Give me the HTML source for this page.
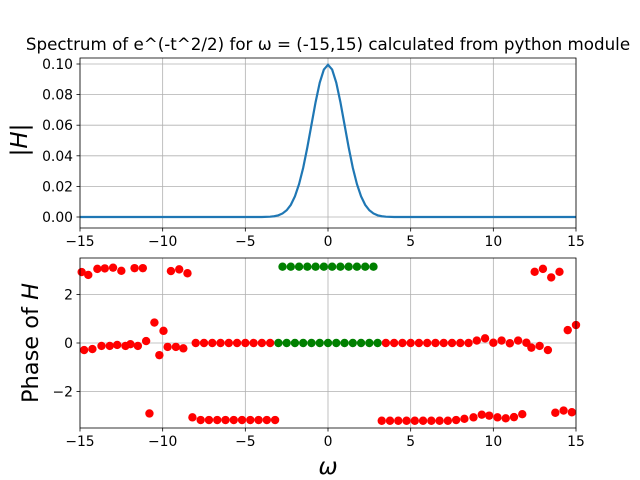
<!DOCTYPE html>
<html><head><meta charset="utf-8"><style>
body{margin:0;background:#fff}
svg{display:block;font-family:"DejaVu Sans","Liberation Sans",sans-serif}
</style></head><body>
<svg id="c" width="640" height="480" xmlns="http://www.w3.org/2000/svg"></svg>
<script>
const magW=[-15,-5,-4,-3.5,-3.25,-3,-2.75,-2.5,-2.25,-2,-1.75,-1.5,-1.25,-1,-0.75,-0.5,-0.25,0,0.25,0.5,0.75,1,1.25,1.5,1.75,2,2.25,2.5,2.75,3,3.25,3.5,4,5,15];
const magV=[0,0,0,0.0002,0.0005,0.0011,0.0023,0.0044,0.0079,0.0135,0.0215,0.0322,0.0455,0.0603,0.0751,0.0878,0.0964,0.0995,0.0964,0.0878,0.0751,0.0603,0.0455,0.0322,0.0215,0.0135,0.0079,0.0044,0.0023,0.0011,0.0005,0.0002,0,0,0];
const redW=[-14.9,-14.5,-13.95,-13.5,-13,-12.5,-11.7,-11.2,-9.5,-9,-8.5,
-14.75,-14.25,-13.7,-13.2,-12.75,-12.25,-11.95,-11.5,-11,-10.5,-9.95,-10.2,-9.7,-9.2,-8.75,-10.8,
-8,-7.5,-7,-6.5,-6,-5.5,-5,-4.5,-4,-3.5,
-8.2,-7.7,-7.2,-6.7,-6.2,-5.7,-5.2,-4.7,-4.2,-3.7,-3.2,
3.5,4,4.5,5,5.5,6,6.5,7,7.5,8,8.5,9,9.5,10,10.5,11,11.5,12,12.3,12.8,13.3,14.5,15,
12.5,13,13.5,14,
3.25,3.75,4.25,4.75,5.25,5.75,6.25,6.75,7.25,7.75,8.25,8.8,9.3,9.75,10.25,10.75,11.25,11.75,13.75,14.25,14.75];
const redV=[2.92,2.8,3.05,3.07,3.1,2.97,3.08,3.08,2.96,3.03,2.87,
-0.29,-0.25,-0.12,-0.12,-0.08,-0.12,-0.05,-0.12,0.08,0.84,0.5,-0.5,-0.16,-0.16,-0.22,-2.9,
0,0,0,0,0,0,0,0,0,0,
-3.06,-3.17,-3.17,-3.17,-3.17,-3.17,-3.17,-3.17,-3.17,-3.17,-3.17,
0,0,0,0,0,0,0,0,0,0,0,0.1,0.19,0.01,0.1,-0.01,0.1,0.01,-0.19,-0.12,-0.29,0.53,0.74,
2.93,3.05,2.7,2.93,
-3.2,-3.2,-3.2,-3.2,-3.2,-3.2,-3.2,-3.2,-3.2,-3.17,-3.12,-3.06,-2.95,-2.99,-3.06,-3.1,-3.05,-2.93,-2.87,-2.78,-2.85];
const greenW=[-3,-2.5,-2,-1.5,-1,-0.5,0,0.5,1,1.5,2,2.5,3,-2.75,-2.25,-1.75,-1.25,-0.75,-0.25,0.25,0.75,1.25,1.75,2.25,2.75];
const greenV=[0,0,0,0,0,0,0,0,0,0,0,0,0,3.14,3.14,3.14,3.14,3.14,3.14,3.14,3.14,3.14,3.14,3.14,3.14];
const xTicks=[-15,-10,-5,0,5,10,15];
const magTicks=[0,0.02,0.04,0.06,0.08,0.1];
const magTickLabels=["0.00","0.02","0.04","0.06","0.08","0.10"];
const phTicks=[-2,0,2];

const S=document.getElementById('c');const NS='http://www.w3.org/2000/svg';
function mk(t,a,p){const e=document.createElementNS(NS,t);for(const k in a)e.setAttribute(k,a[k]);(p||S).appendChild(e);return e;}
const L=80,R=576;
const X=w=>L+(w+15)/30*(R-L);
const Y1=v=>217-v*1530;
const Y2=v=>343-v*24.3;
function axes(top,bot,name,yt,yf,ylab){
  const g=mk('g',{});
  xTicks.forEach(t=>{mk('line',{x1:X(t),x2:X(t),y1:top,y2:bot,stroke:'#b0b0b0','stroke-width':0.8},g);
    mk('line',{x1:X(t),x2:X(t),y1:bot,y2:bot+3.5,stroke:'#000','stroke-width':0.8},g);
    const tx=mk('text',{x:X(t),y:bot+18,'font-size':13.9,'text-anchor':'middle'},g);tx.textContent=t<0?'\u2212'+(-t):t;});
  yt.forEach((t,i)=>{const y=yf(t);mk('line',{x1:L,x2:R,y1:y,y2:y,stroke:'#b0b0b0','stroke-width':0.8},g);
    mk('line',{x1:L-3.5,x2:L,y1:y,y2:y,stroke:'#000','stroke-width':0.8},g);
    const tx=mk('text',{x:L-7,y:y+5,'font-size':13.9,'text-anchor':'end'},g);tx.textContent=ylab[i];});
  return g;
}
const t=mk('text',{x:328,y:50,'font-size':16.7,'text-anchor':'middle'});t.textContent='Spectrum of  e^(-t^2/2) for \u03c9 = (-15,15) calculated from python module';

axes(58,228,'magnitude-axes',magTicks,Y1,magTickLabels);
let d=magW.map((w,i)=>(i?'L':'M')+X(w)+','+Y1(magV[i])).join('');
const ln=mk('path',{d:d,fill:'none',stroke:'#1f77b4','stroke-width':2.2});

mk('rect',{x:L,y:58,width:R-L,height:170,fill:'none',stroke:'#000','stroke-width':0.8});
const yl1=mk('text',{x:0,y:0,'font-size':23,'text-anchor':'middle',transform:'translate(27,140) rotate(-90)','font-style':'italic'});yl1.textContent='|H|';


axes(258,428,'phase-axes',phTicks,Y2,["\u22122","0","2"]);
const cg=mk('g',{});
redW.forEach((w,i)=>{const c=mk('circle',{cx:X(w),cy:Y2(redV[i]),r:4.2,fill:'red'},cg);});
greenW.forEach((w,i)=>{const c=mk('circle',{cx:X(w),cy:Y2(greenV[i]),r:4.2,fill:'green'},cg);});
mk('rect',{x:L,y:258,width:R-L,height:170,fill:'none',stroke:'#000','stroke-width':0.8});
const yl2=mk('text',{x:0,y:0,'font-size':22.5,'text-anchor':'middle',transform:'translate(38,343) rotate(-90)'});yl2.innerHTML='Phase of <tspan font-style="italic">H</tspan>';

const xl=mk('text',{x:328,y:474,'font-size':23,'text-anchor':'middle','font-style':'italic'});xl.textContent='\u03c9';

</script>
</body></html>
